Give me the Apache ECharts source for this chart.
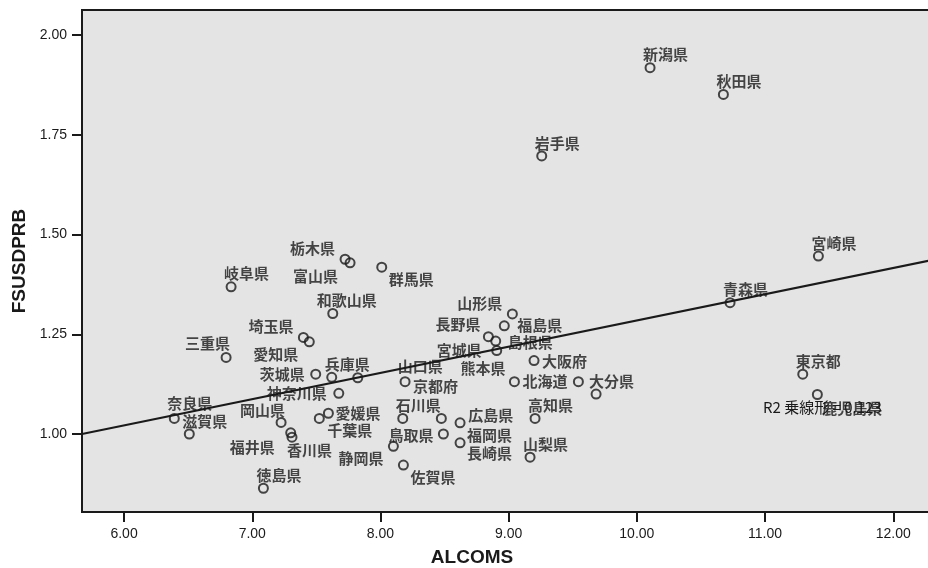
<!DOCTYPE html>
<html>
<head>
<meta charset="utf-8">
<script src="https://cdn.jsdelivr.net/npm/echarts@6/dist/echarts.min.js"></script>
<style>
  html, body { margin: 0; padding: 0; background: #fff; }
  #chart { width: 928px; height: 568px; }
</style>
</head>
<body>
<div id="chart"></div>
<script>
// ---- data ----
const prefectures = [
  '北海道','青森県','岩手県','宮城県','秋田県','山形県','福島県','茨城県','栃木県','群馬県',
  '埼玉県','千葉県','東京都','神奈川県','新潟県','富山県','石川県','福井県','山梨県','長野県',
  '岐阜県','静岡県','愛知県','三重県','滋賀県','京都府','大阪府','兵庫県','奈良県','和歌山県',
  '鳥取県','島根県','岡山県','広島県','山口県','徳島県','香川県','愛媛県','高知県','福岡県',
  '佐賀県','長崎県','熊本県','大分県','宮崎県','鹿児島県'
];
const alcoms = [
  9.544, 10.727, 9.258, 8.907, 10.675, 9.029, 8.966, 7.495, 7.724, 8.010,
  7.399, 7.523, 11.294, 7.675, 10.103, 7.763, 8.174, 7.300, 9.167, 8.842,
  6.835, 8.101, 7.445, 6.796, 6.509, 8.192, 9.198, 7.620, 6.392, 7.628,
  8.491, 8.899, 7.225, 8.475, 7.823, 7.087, 7.310, 7.594, 9.206, 8.621,
  8.179, 8.621, 9.045, 9.682, 11.416, 11.408
];
const fsusdprb = [
  1.131, 1.329, 1.697, 1.209, 1.851, 1.301, 1.271, 1.150, 1.438, 1.418,
  1.242, 1.039, 1.150, 1.102, 1.918, 1.429, 1.039, 1.003, 0.942, 1.244,
  1.369, 0.969, 1.231, 1.192, 1.000, 1.131, 1.184, 1.142, 1.039, 1.302,
  1.000, 1.233, 1.029, 1.039, 1.141, 0.864, 0.992, 1.052, 1.039, 1.028,
  0.922, 0.978, 1.131, 1.100, 1.446, 1.099
];
// fitted line end points
const fitX = [5.672, 12.349];
const fitY = [1.000, 1.439];
const xTicks = [6, 7, 8, 9, 10, 11, 12];
const yTicks = [1.00, 1.25, 1.50, 1.75, 2.00];
const xTitle = 'ALCOMS';
const yTitle = 'FSUSDPRB';
const fitLabel = 'R2 乗線形 = 0.123';

// ---- styling: label offsets (px, from point centre to label's left/middle) ----
const DEFAULT_OFFSET = [-7, -13];
const labelOffsets = {
  '栃木県': [-55, -11], '富山県': [-57, 13], '群馬県': [7, 12], '和歌山県': [-16, -13],
  '埼玉県': [-55, -11], '愛知県': [-56, 12], '三重県': [-41, -14], '茨城県': [-56, 0],
  '山口県': [40, -11], '京都府': [8, 5], '神奈川県': [-72, 0], '奈良県': [-7, -15],
  '岡山県': [-41, -12], '愛媛県': [7, 0], '千葉県': [8, 12], '福井県': [-61, 14],
  '香川県': [-5, 13], '静岡県': [-55, 12], '鳥取県': [-55, 1], '広島県': [27, -3],
  '福岡県': [7, 12], '長崎県': [7, 11], '佐賀県': [7, 12], '山形県': [-55, -11],
  '福島県': [13, -1], '長野県': [-53, -12], '島根県': [12, 1], '宮城県': [-60, 0],
  '大阪府': [8, 1], '熊本県': [-54, -13], '北海道': [-56, 0], '鹿児島県': [5, 14]
};

const ink = '#1a1a1a';
const CJK = '"Noto Sans CJK JP", "Noto Sans", sans-serif';
const LAT = '"Liberation Sans", Arial, sans-serif';

const points = prefectures.map((name, i) => ({
  name: name,
  value: [alcoms[i], fsusdprb[i]],
  label: { offset: labelOffsets[name] || DEFAULT_OFFSET }
}));

const chart = echarts.init(document.getElementById('chart'), null, { renderer: 'canvas' });
chart.setOption({
  backgroundColor: '#ffffff',
  animation: false,
  grid: {
    left: 82, right: -10, top: 10, bottom: 56,
    containLabel: false, outerBoundsMode: 'none',
    show: true, backgroundColor: '#e4e4e4', borderColor: ink, borderWidth: 2
  },
  xAxis: {
    type: 'value', min: 5.672, max: 12.349,
    name: xTitle, nameLocation: 'middle', nameGap: 36,
    nameTextStyle: { fontFamily: LAT, fontSize: 19, fontWeight: 'bold', color: ink, padding: [0, 76, 0, 0] },
    splitLine: { show: false },
    axisLine: { show: true, onZero: false, lineStyle: { color: ink, width: 2 } },
    axisTick: { show: true, customValues: xTicks, length: 10, lineStyle: { color: ink, width: 2 } },
    axisLabel: { customValues: xTicks, formatter: v => v.toFixed(2), margin: 15,
      fontFamily: LAT, fontSize: 14, color: ink }
  },
  yAxis: {
    type: 'value', min: 0.8045, max: 2.0627,
    name: yTitle, nameLocation: 'middle', nameGap: 50, nameRotate: 90,
    nameTextStyle: { fontFamily: LAT, fontSize: 19, fontWeight: 'bold', color: ink },
    splitLine: { show: false },
    axisLine: { show: true, onZero: false, lineStyle: { color: ink, width: 2 } },
    axisTick: { show: true, customValues: yTicks, length: 10, lineStyle: { color: ink, width: 2 } },
    axisLabel: { customValues: yTicks, formatter: v => v.toFixed(2), margin: 15,
      fontFamily: LAT, fontSize: 14, color: ink }
  },
  series: [
    {
      type: 'line',
      data: fitX.map((x, i) => [x, fitY[i]]),
      symbol: 'none',
      lineStyle: { color: ink, width: 2 },
      silent: true,
      z: 3
    },
    {
      type: 'scatter',
      data: points,
      symbol: 'circle',
      symbolSize: 9,
      itemStyle: { color: 'rgba(0,0,0,0)', borderColor: ink, borderWidth: 2 },
      label: {
        show: true, position: 'inside', align: 'left', verticalAlign: 'middle',
        formatter: p => p.name,
        fontFamily: CJK, fontSize: 15, fontWeight: 'bold', color: ink
      },
      z: 4
    }
  ],
  graphic: [
    {
      type: 'text', left: 763, top: 400, z: 10,
      style: { text: fitLabel, fontFamily: CJK, fontSize: 15, fill: ink }
    }
  ]
});
</script>
</body>
</html>
